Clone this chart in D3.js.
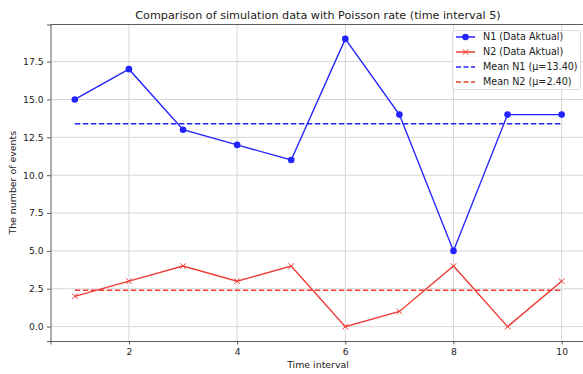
<!DOCTYPE html>
<html>
<head>
<meta charset="utf-8">
<script src="https://cdn.jsdelivr.net/npm/d3@7"></script>
<style>
body { margin: 0; background: #fff; }
text { font-family: "DejaVu Sans", sans-serif; fill: #222; }
</style>
</head>
<body>
<svg></svg>
<script>
var intervals = [1, 2, 3, 4, 5, 6, 7, 8, 9, 10];
var n1 = [15, 17, 13, 12, 11, 19, 14, 5, 14, 14];
var n2 = [2, 3, 4, 3, 4, 0, 1, 4, 0, 3];
var xTicks = [2, 4, 6, 8, 10];
var yTicks = [0, 2.5, 5, 7.5, 10, 12.5, 15, 17.5];

var meanN1 = d3.mean(n1), meanN2 = d3.mean(n2);

var svgWidth = 583, svgHeight = 374;
var plotLeft = 50.5, plotRight = 586, plotTop = 24.5, plotBottom = 341;

var svg = d3.select('svg')
    .attr("width", svgWidth)
    .attr("height", svgHeight);

var xScale = d3.scaleLinear().domain([0.55, 10.45]).range([plotLeft, plotRight]);
var yScale = d3.scaleLinear().domain([-0.95, 19.95]).range([plotBottom, plotTop]);

// grid
svg.append("g").selectAll("line").data(xTicks).enter().append("line")
    .attr("x1", d => xScale(d)).attr("x2", d => xScale(d))
    .attr("y1", plotTop).attr("y2", plotBottom)
    .attr("stroke", "#d6d6d6").attr("stroke-width", 1);
svg.append("g").selectAll("line").data(yTicks).enter().append("line")
    .attr("x1", plotLeft).attr("x2", plotRight)
    .attr("y1", d => yScale(d)).attr("y2", d => yScale(d))
    .attr("stroke", "#d6d6d6").attr("stroke-width", 1);

// axes
var xAxis = svg.append("g")
    .attr("transform", "translate(0," + plotBottom + ")")
    .call(d3.axisBottom(xScale).tickValues(xTicks).tickFormat(d3.format("d")).tickSize(3.5).tickPadding(3.5));
var yAxis = svg.append("g")
    .attr("transform", "translate(" + plotLeft + ",0)")
    .call(d3.axisLeft(yScale).tickValues(yTicks).tickFormat(d3.format(".1f")).tickSize(3.5).tickPadding(3.5));
[xAxis, yAxis].forEach(function (a) {
    a.select(".domain").attr("stroke", "#333").attr("stroke-width", 0.8);
    a.selectAll(".tick line").attr("stroke", "#333").attr("stroke-width", 0.8);
    a.selectAll("text").attr("font-size", "9.2px").attr("font-family", "DejaVu Sans").attr("fill", "#222");
});
// top spine
svg.append("line").attr("x1", plotLeft).attr("x2", plotRight).attr("y1", plotTop).attr("y2", plotTop)
    .attr("stroke", "#333").attr("stroke-width", 0.8);

var blue = "#2323ff", red = "#ee3b33";

// mean lines
svg.append("line")
    .attr("x1", xScale(1)).attr("x2", xScale(10))
    .attr("y1", yScale(meanN1)).attr("y2", yScale(meanN1))
    .attr("stroke", blue).attr("stroke-width", 1.5).attr("stroke-dasharray", "5.5,2.5");
svg.append("line")
    .attr("x1", xScale(1)).attr("x2", xScale(10))
    .attr("y1", yScale(meanN2)).attr("y2", yScale(meanN2))
    .attr("stroke", red).attr("stroke-width", 1.5).attr("stroke-dasharray", "5.5,2.5");

var line = d3.line().x((d, i) => xScale(intervals[i])).y(d => yScale(d));

svg.append("path").datum(n1).attr("d", line)
    .attr("fill", "none").attr("stroke", blue).attr("stroke-width", 1.4);
svg.append("g").selectAll("circle").data(n1).enter().append("circle")
    .attr("cx", (d, i) => xScale(intervals[i])).attr("cy", d => yScale(d))
    .attr("r", 3.3).attr("fill", blue);

svg.append("path").datum(n2).attr("d", line)
    .attr("fill", "none").attr("stroke", red).attr("stroke-width", 1.4);
var cross = d3.symbol().type(d3.symbolTimes).size(22);
svg.append("g").selectAll("path").data(n2).enter().append("path")
    .attr("d", cross)
    .attr("transform", (d, i) => "translate(" + xScale(intervals[i]) + "," + yScale(d) + ")")
    .attr("fill", "none").attr("stroke", red).attr("stroke-width", 1);

// title and labels
svg.append("text").attr("x", 318).attr("y", 18.5).attr("text-anchor", "middle")
    .attr("font-size", "11.2px").text("Comparison of simulation data with Poisson rate (time interval 5)");
svg.append("text").attr("x", 318).attr("y", 368).attr("text-anchor", "middle")
    .attr("font-size", "9.4px").text("Time interval");
svg.append("text").attr("transform", "translate(15.5," + ((plotTop + plotBottom) / 2) + ") rotate(-90)")
    .attr("text-anchor", "middle").attr("font-size", "9.4px").text("The number of events");

// legend
var legendItems = [
    { label: "N1 (Data Aktual)", color: blue, dash: null, marker: "circle" },
    { label: "N2 (Data Aktual)", color: red, dash: null, marker: "cross" },
    { label: "Mean N1 (\u03bc=" + meanN1.toFixed(2) + ")", color: blue, dash: "5,2.5", marker: null },
    { label: "Mean N2 (\u03bc=" + meanN2.toFixed(2) + ")", color: red, dash: "5,2.5", marker: null }
];
var lg = svg.append("g");
lg.append("rect").attr("x", 452.5).attr("y", 30.5).attr("width", 128).attr("height", 59)
    .attr("rx", 2).attr("fill", "#fff").attr("fill-opacity", 0.8).attr("stroke", "#ddd");
legendItems.forEach(function (it, i) {
    var y = 37 + i * 15;
    lg.append("line").attr("x1", 456).attr("x2", 475).attr("y1", y).attr("y2", y)
        .attr("stroke", it.color).attr("stroke-width", 1.5).attr("stroke-dasharray", it.dash);
    if (it.marker === "circle") {
        lg.append("circle").attr("cx", 465.5).attr("cy", y).attr("r", 3.3).attr("fill", it.color);
    } else if (it.marker === "cross") {
        lg.append("path").attr("d", cross).attr("transform", "translate(465.5," + y + ")")
            .attr("fill", "none").attr("stroke", it.color).attr("stroke-width", 1);
    }
    lg.append("text").attr("x", 483).attr("y", y + 3.4).attr("font-size", "9.6px").text(it.label);
});
</script>
</body>
</html>
